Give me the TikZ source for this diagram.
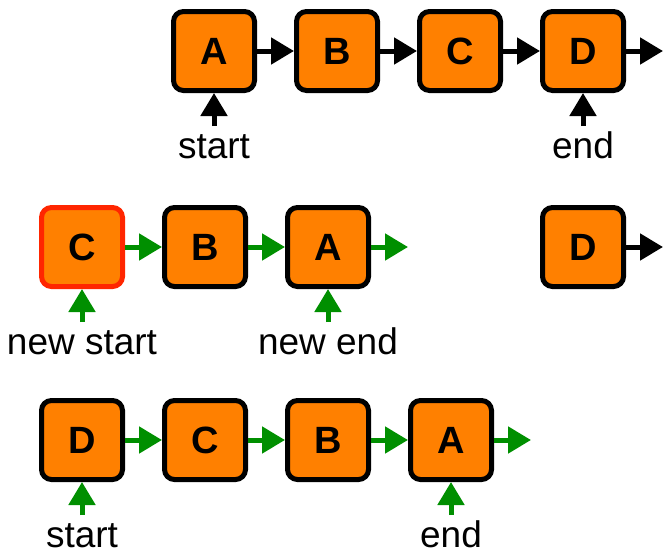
\documentclass[tikz,border=0pt]{standalone}
\usepackage{fontspec}
\setmainfont{Liberation Sans}
\usetikzlibrary{positioning,arrows.meta}
\definecolor{boxorange}{RGB}{255,128,0}
\definecolor{linkgreen}{RGB}{0,143,0}
\definecolor{newred}{RGB}{255,38,0}
\tikzset{
  cell/.style={draw=black,line width=5pt,fill=boxorange,rounded corners=10pt,minimum width=81pt,minimum height=79pt,inner sep=0pt,font=\fontsize{38}{40}\selectfont\bfseries},
  link/.style={line width=5pt,-{Triangle[length=23pt,width=26pt]}},
  tag/.style={inner sep=0pt,outer sep=6pt,text height=26pt,text depth=0pt,font=\fontsize{37}{40}\selectfont},
}

\begin{document}
\begin{tikzpicture}[x=1pt,y=-1pt,node distance=37pt]
        \useasboundingbox (0,0) rectangle (664,552);
        \node[cell] (A1) at (214,51) {A};
        \node[cell,right=of A1] (B1) {B};
        \node[cell,right=of B1] (C1) {C};
        \node[cell,right=of C1] (D1) {D};
        \coordinate[right=of D1] (E1);
        \node[tag,below=33pt of A1] (S1) {start};
        \node[tag,below=33pt of D1] (T1) {end};
        \draw[link] (A1.east) -- (B1.west);
        \draw[link] (B1.east) -- (C1.west);
        \draw[link] (C1.east) -- (D1.west);
        \draw[link] (D1.east) -- (E1);
        \draw[link] (S1.north) -- (A1.south);
        \draw[link] (T1.north) -- (D1.south);

        \node[cell,draw=newred] (C2) at (82,247) {C};
        \node[cell,right=of C2] (B2) {B};
        \node[cell,right=of B2] (A2) {A};
        \coordinate[right=of A2] (E2);
        \node[cell] (D2) at (583,247) {D};
        \coordinate[right=of D2] (F2);
        \node[tag,below=33pt of C2] (S2) {new start};
        \node[tag,below=33pt of A2] (T2) {new end};
        \draw[link,linkgreen] (C2.east) -- (B2.west);
        \draw[link,linkgreen] (B2.east) -- (A2.west);
        \draw[link,linkgreen] (A2.east) -- (E2);
        \draw[link] (D2.east) -- (F2);
        \draw[link,linkgreen] (S2.north) -- (C2.south);
        \draw[link,linkgreen] (T2.north) -- (A2.south);

        \node[cell] (D3) at (82,440) {D};
        \node[cell,right=of D3] (C3) {C};
        \node[cell,right=of C3] (B3) {B};
        \node[cell,right=of B3] (A3) {A};
        \coordinate[right=of A3] (E3);
        \node[tag,below=33pt of D3] (S3) {start};
        \node[tag,below=33pt of A3] (T3) {end};
        \draw[link,linkgreen] (D3.east) -- (C3.west);
        \draw[link,linkgreen] (C3.east) -- (B3.west);
        \draw[link,linkgreen] (B3.east) -- (A3.west);
        \draw[link,linkgreen] (A3.east) -- (E3);
        \draw[link,linkgreen] (S3.north) -- (D3.south);
        \draw[link,linkgreen] (T3.north) -- (A3.south);
    \end{tikzpicture}
\end{document}
